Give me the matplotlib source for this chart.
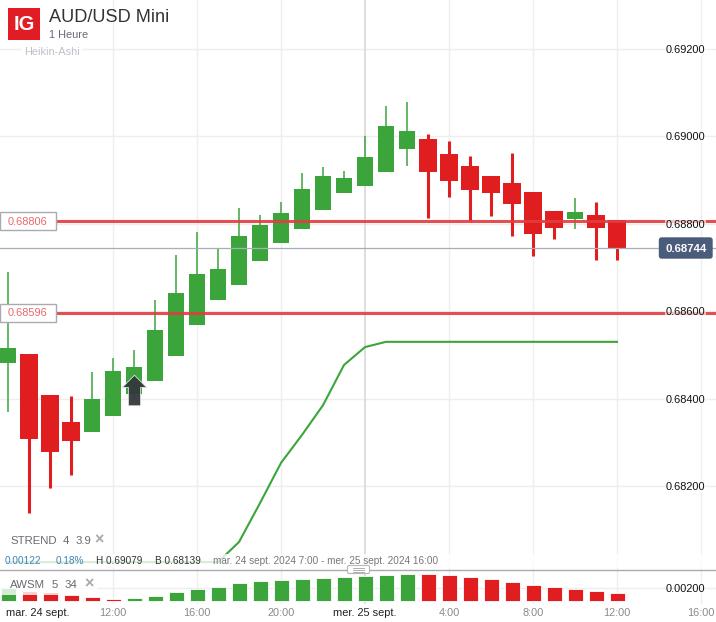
import matplotlib
matplotlib.use("Agg")
import matplotlib.pyplot as plt
from matplotlib.patches import FancyBboxPatch, Rectangle
from matplotlib.path import Path

plt.rcParams['font.family'] = ['Liberation Sans', 'DejaVu Sans']

# ---- data (hours counted from 24 Sept 00:00) ----
hours = list(range(7, 37))
high = [.68690,.68502,.68408,.68406,.68461,.68493,.68511,.68626,.68729,.68781,
        .68745,.68836,.68820,.68850,.68916,.68930,.68921,.69001,.69070,.69079,
        .69006,.68990,.68955,.68909,.68962,.68873,.68829,.68859,.68850,.68809]
body_hi = [.68516,.68502,.68408,.68347,.68399,.68463,.68472,.68557,.68642,.68685,
           .68697,.68772,.68797,.68825,.68880,.68909,.68905,.68953,.69024,.69012,
           .68994,.68960,.68932,.68909,.68893,.68873,.68829,.68827,.68820,.68809]
body_lo = [.68482,.68308,.68278,.68303,.68324,.68360,.68411,.68440,.68498,.68569,
           .68626,.68660,.68715,.68756,.68788,.68832,.68871,.68887,.68919,.68971,
           .68919,.68898,.68877,.68871,.68845,.68777,.68790,.68811,.68790,.68744]
low = [.68369,.68139,.68196,.68225,.68324,.68360,.68399,.68440,.68498,.68569,
       .68626,.68660,.68715,.68756,.68788,.68832,.68871,.68887,.68919,.68932,
       .68813,.68861,.68806,.68818,.68772,.68726,.68765,.68788,.68717,.68717]
is_up = [1,0,0,0,1,1,1,1,1,1,1,1,1,1,1,1,1,1,1,1,0,0,0,0,0,0,0,1,0,0]

trend_hours = [7, 17, 18, 19, 20, 21, 22, 23, 24, 25, 36]
trend_vals = [.68026, .68026, .68072, .68161, .68253, .68317, .68385, .68477, .68518, .68530, .68530]

awsm = [.00200,.00158,.00138,.00092,.00062,.00026,.00042,.00077,.00134,.00180,
        .00220,.00272,.00303,.00318,.00334,.00354,.00369,.00385,.00405,.00420,
        .00415,.00400,.00374,.00334,.00292,.00251,.00211,.00185,.00154,.00118]
awsm_up = [1,0,0,0,0,0,1,1,1,1,1,1,1,1,1,1,1,1,1,1,0,0,0,0,0,0,0,0,0,0]

price_ticks = [.692, .690, .688, .686, .684, .682]
price_labels = ['0.69200', '0.69000', '0.68800', '0.68600', '0.68400', '0.68200']
grid_hours = [12, 16, 20, 24, 28, 32, 36, 40]
hour_labels = ['12:00', '16:00', '20:00', '4:00', '8:00', '12:00', '16:00']
hour_label_pos = [12, 16, 20, 28, 32, 36, 40]
levels = [.68806, .68596]
level_labels = ['0.68806', '0.68596']
last_price = .68744
signal_hour, signal_price = 13, .6842

GREEN, RED = '#3ba53c', '#e01d1f'
W, H = 716, 622

fig = plt.figure(figsize=(7.16, 6.22), dpi=100, facecolor='white')
top_bottom = 569
ax = fig.add_axes([0, 1 - top_bottom / H, 1, top_bottom / H])
sub_top, sub_bot = 570, 604
ax2 = fig.add_axes([0, 1 - sub_bot / H, 1, (sub_bot - sub_top) / H])
over = fig.add_axes([0, 0, 1, 1], facecolor='none')   # overlay in pixel coordinates
over.set_xlim(0, W); over.set_ylim(H, 0); over.axis('off')

xlim = ((0 - 113) / 21 + 12, (W - 113) / 21 + 12)
price = lambda y: .692 - (y - 49) * .00002288
for a in (ax, ax2):
    a.set_xlim(*xlim)
    a.set_xticks([]); a.set_yticks([])
    for s in a.spines.values():
        s.set_visible(False)
ax.set_ylim(price(top_bottom), price(0))
val = lambda y: (601 - y) * .002 / 13
ax2.set_ylim(val(sub_bot), val(sub_top))

# grids
for p in price_ticks:
    ax.axhline(p, color='#eeeeee', lw=1, zorder=0)
for h in grid_hours:
    c, lw = ('#d4d4d4', 1.1) if h == 24 else ('#eeeeee', 1)
    ax.axvline(h, color=c, lw=lw, zorder=0)
    ax2.axvline(h, color=c, lw=lw, zorder=0)
ax2.axhline(.002, color='#eeeeee', lw=1, zorder=0)

# candles
wpx = 1 / 21
for h, hi, bh, bl, lo, up in zip(hours, high, body_hi, body_lo, low, is_up):
    col = GREEN if up else RED
    ax.vlines(h, lo, hi, color=col, lw=1.1 if up else 2.2, zorder=2)
    bw = (16 if up else 18) * wpx
    ax.add_patch(Rectangle((h - bw / 2, bl), bw, bh - bl, fc=col, ec='none', zorder=3))

# level lines
ax.axhline(last_price, color='#a9adb5', lw=0.9, zorder=4)
for lv in levels:
    ax.axhline(lv, color='#e23c3f', alpha=.9, lw=2.2, zorder=5)

# supertrend
ax.plot(trend_hours, trend_vals, color=GREEN, lw=1.5, zorder=4)

# signal arrow
arrow = Path([(0, 1), (.8, .2), (.4, .2), (.4, -1), (-.4, -1), (-.4, .2), (-.8, .2), (0, 1)], closed=True)
ax.plot([signal_hour], [signal_price], marker=arrow, ms=22, mfc='#33383a', mec='#e8e8e8', mew=.6, zorder=6, alpha=.95)

# AWSM bars
bw2 = 15 * wpx
ax2.bar(hours, awsm, width=bw2, color=[GREEN if u else RED for u in awsm_up],
        edgecolor='#ffffff', linewidth=.6, zorder=2, alpha=1)

# overlays
over.add_patch(Rectangle((0, 554), W, 14, fc='white', alpha=.8, ec='none', zorder=1))
over.add_patch(Rectangle((0, 576), 98, 19, fc='white', alpha=.8, ec='none', zorder=1))
over.plot([0, W], [569.5, 569.5], color='#a9a9ae', lw=1, zorder=2)

# logo and titles
over.add_patch(Rectangle((8, 8), 32, 32, fc='#e01d24', ec='none', zorder=3))
over.text(24, 24.5, 'IG', color='white', fontsize=14.5, fontweight='bold', ha='center', va='center', zorder=4)
over.text(49, 18, 'AUD/USD Mini', color='#333333', fontsize=13.1, ha='left', va='center', zorder=4)
over.text(49, 35, '1 Heure', color='#666a78', fontsize=7.9, ha='left', va='center', zorder=4)
over.text(24, 52, 'Heikin-Ashi', color='#bfc0c8', fontsize=7.9, ha='left', va='center', zorder=4,
          bbox=dict(fc='white', ec='none', pad=1.5))

# price labels
for p, t in zip(price_ticks, price_labels):
    y = 49 + (.692 - p) / .00002288
    over.text(666, y + 1, t, color='#111111', fontsize=7.9, ha='left', va='center', zorder=4,
              bbox=dict(fc='white', ec='none', alpha=.65, pad=.5))
over.text(666, 589, '0.00200', color='#111111', fontsize=7.9, ha='left', va='center', zorder=4)

# level boxes
for lv, t in zip(levels, level_labels):
    y = 49 + (.692 - lv) / .00002288
    over.add_patch(Rectangle((0, y - 9), 55.5, 18, fc='white', ec='#aaaab2', lw=1, zorder=3))
    over.text(27, y + .5, t, color='#e9686b', fontsize=7.9, ha='center', va='center', zorder=4)

# last price tag
over.add_patch(FancyBboxPatch((659.5, 238), 52.5, 20, boxstyle='round,pad=0,rounding_size=2',
                              fc='#4a5c7c', ec='#4a5c7c', lw=1, zorder=3))
over.text(686, 249, '0.68744', color='white', fontsize=8.2, fontweight='bold', ha='center', va='center', zorder=4)

# indicator labels
gray = '#666a70'
for x, t in [(10, 'STREND'), (63, '4'), (76, '3.9')]:
    over.text(x, 541.5, t, color=gray, fontsize=8.2, ha='left', va='center', zorder=4)
over.text(94, 540, '×', color='#a8a8b0', fontsize=11.5, fontweight='bold', ha='left', va='center', zorder=4)
for x, t in [(10, 'AWSM'), (52, '5'), (65, '34')]:
    over.text(x, 585.5, t, color=gray, fontsize=8.2, ha='left', va='center', zorder=4)
over.text(84, 584, '×', color='#a8a8b0', fontsize=11.5, fontweight='bold', ha='left', va='center', zorder=4)

# info strip
for x, t, c in [(5, '0.00122', '#3d84b8'), (56, '0.18%', '#3d84b8'), (96, 'H 0.69079', '#333333'),
                (155, 'B 0.68139', '#333333'),
                (213, 'mar. 24 sept. 2024 7:00 - mer. 25 sept. 2024 16:00', '#777777')]:
    over.text(x, 561, t, color=c, fontsize=7.2, ha='left', va='center', zorder=4)

# splitter handle
over.add_patch(FancyBboxPatch((347.5, 565.5), 22, 8, boxstyle='round,pad=0,rounding_size=1.5',
                              fc='white', ec='#b5b5ba', lw=.8, zorder=3))
for yy in (568, 570, 572):
    over.plot([353, 364], [yy, yy], color='#a0a0a6', lw=.6, zorder=4)

# time axis
for h, t in zip(hour_label_pos, hour_labels):
    px = 113 + 21 * (h - 12)
    over.text(px, 613.5, t, color='#8a8a8a', fontsize=7.9, ha='center', va='center', zorder=4)
over.text(6, 613.5, 'mar. 24 sept.', color='#222222', fontsize=7.9, ha='left', va='center', zorder=4)
over.text(333, 613.5, 'mer. 25 sept.', color='#222222', fontsize=7.9, ha='left', va='center', zorder=4)

fig.savefig('out.png', dpi=100, facecolor='white')
